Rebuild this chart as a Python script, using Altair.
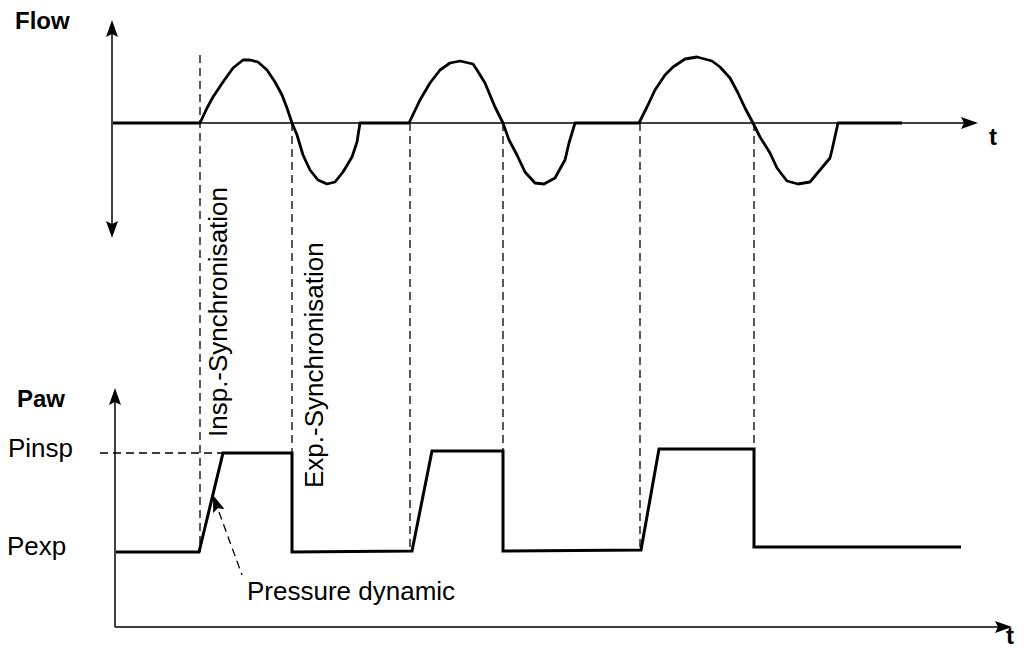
import altair as alt
import pandas as pd

# ---- Data (diagram units: horizontal = time, vertical = level from top) ----
# Flow waveform
flow_t = [113, 200, 207, 213, 223, 233, 243, 250, 258, 267, 275, 282, 287, 292,
          297, 303, 310, 318, 327, 335, 343, 352, 357, 360,
          409, 420, 430, 440, 450, 460, 473, 477, 485, 495, 503,
          509, 517, 525, 535, 544, 555, 561, 565, 569, 575,
          639, 647, 655, 665, 673, 685, 697, 712, 720, 730, 738, 745, 753,
          760, 770, 777, 787, 798, 810, 820, 830, 832, 838, 902]
flow_v = [123, 123, 108, 97, 82, 68, 60, 60, 62, 70, 82, 95, 108, 123,
          135, 155, 170, 180, 184, 182, 172, 157, 142, 123,
          123, 100, 83, 70, 63, 61, 64, 70, 83, 107, 123,
          140, 155, 172, 183, 184, 178, 167, 160, 143, 123,
          123, 107, 90, 75, 67, 59, 57, 61, 67, 78, 93, 108, 123,
          137, 153, 168, 181, 184, 182, 170, 158, 150, 123, 123]

# Airway pressure waveform
paw_t = [116, 199, 223, 292, 292, 412, 432, 503, 503, 641, 659, 754, 754, 961]
paw_v = [552, 552, 453, 453, 552, 551, 451, 451, 551, 550, 449, 449, 547, 547]

# Axes (start/end)
axis_x1 = [112, 113, 115, 115]
axis_y1 = [26, 123, 395, 627]
axis_x2 = [112, 965, 115, 1000]
axis_y2 = [232, 123, 627, 627]

# Arrow heads (tip position, direction in degrees clockwise from up)
arrow_x = [112, 112, 978, 115, 1012, 213]
arrow_y = [20, 238, 123, 388, 627, 495]
arrow_dir = [0, 180, 90, 0, 90, 340]

# Synchronisation dashed lines
sync_x = [200, 410, 640, 292, 503, 754]
sync_y1 = [55, 123, 123, 123, 123, 123]
sync_y2 = [552, 551, 550, 453, 451, 449]

# Other dashed guides: Pinsp level, pressure dynamic pointer
guide_x1 = [100, 219]
guide_y1 = [453, 512]
guide_x2 = [223, 242]
guide_y2 = [453, 575]

# Labels
bold_text = ["Flow", "Paw", "t", "t"]
bold_x = [15, 17, 989, 1006]
bold_y = [29, 407, 145, 644]

plain_text = ["Pinsp", "Pexp", "Pressure dynamic"]
plain_x = [8, 7, 247]
plain_y = [457, 555, 600]

rot_text = ["Insp.-Synchronisation", "Exp.-Synchronisation"]
rot_x = [227, 323]
rot_y = [437, 488]

# ---- Chart ----
FONT = "Liberation Sans"
xs = alt.Scale(domain=[8, 1021], nice=False, zero=False)
ys = alt.Scale(domain=[8, 649], nice=False, zero=False, reverse=True)


def X(f="x"):
    return alt.X(f"{f}:Q", scale=xs, axis=None)


def Y(f="y"):
    return alt.Y(f"{f}:Q", scale=ys, axis=None)


flow_df = pd.DataFrame({"x": flow_t, "y": flow_v, "i": range(len(flow_t))})
paw_df = pd.DataFrame({"x": paw_t, "y": paw_v, "i": range(len(paw_t))})
axis_df = pd.DataFrame({"x": axis_x1, "y": axis_y1, "x2": axis_x2, "y2": axis_y2})
arrow_df = pd.DataFrame({"x": arrow_x, "y": arrow_y, "a": arrow_dir})
sync_df = pd.DataFrame({"x": sync_x, "y": sync_y1, "y2": sync_y2})
guide_df = pd.DataFrame({"x": guide_x1, "y": guide_y1, "x2": guide_x2, "y2": guide_y2})
bold_df = pd.DataFrame({"x": bold_x, "y": bold_y, "t": bold_text})
plain_df = pd.DataFrame({"x": plain_x, "y": plain_y, "t": plain_text})
rot_df = pd.DataFrame({"x": rot_x, "y": rot_y, "t": rot_text})

axes = alt.Chart(axis_df).mark_rule(color="black", strokeWidth=1.5).encode(
    x=X(), y=Y(), x2="x2:Q", y2="y2:Q")

sync = alt.Chart(sync_df).mark_rule(color="black", strokeWidth=1.3, strokeDash=[8, 5]).encode(
    x=X(), y=Y(), y2="y2:Q")

guides = alt.Chart(guide_df).mark_rule(color="black", strokeWidth=1.3, strokeDash=[8, 5]).encode(
    x=X(), y=Y(), x2="x2:Q", y2="y2:Q")

flow = alt.Chart(flow_df).mark_line(color="black", strokeWidth=2.8, strokeJoin="round").encode(
    x=X(), y=Y(), order="i:Q")

paw = alt.Chart(paw_df).mark_line(color="black", strokeWidth=3, strokeJoin="miter").encode(
    x=X(), y=Y(), order="i:Q")

arrows = alt.Chart(arrow_df).mark_point(
    shape="M0,0L0.6,1.7L0,1.4L-0.6,1.7Z", filled=True, color="black",
    opacity=1, size=400, strokeWidth=0).encode(
    x=X(), y=Y(), angle=alt.Angle("a:Q", scale=None))

bold_lbl = alt.Chart(bold_df).mark_text(
    font=FONT, fontSize=24, fontWeight="bold", align="left", baseline="alphabetic",
    color="black").encode(x=X(), y=Y(), text="t:N")

plain_lbl = alt.Chart(plain_df).mark_text(
    font=FONT, fontSize=26, align="left", baseline="alphabetic",
    color="black").encode(x=X(), y=Y(), text="t:N")

rot_lbl = alt.Chart(rot_df).mark_text(
    font=FONT, fontSize=26, align="left", baseline="alphabetic", angle=270,
    color="black").encode(x=X(), y=Y(), text="t:N")

chart = alt.layer(axes, sync, guides, flow, paw, arrows, bold_lbl, plain_lbl, rot_lbl).properties(
    width=1013, height=641, padding=0,
    autosize=alt.AutoSizeParams(type="none"),
    background="white",
).configure_view(stroke=None)

chart.save("out.html", embed_options={"renderer": "svg", "actions": False})
